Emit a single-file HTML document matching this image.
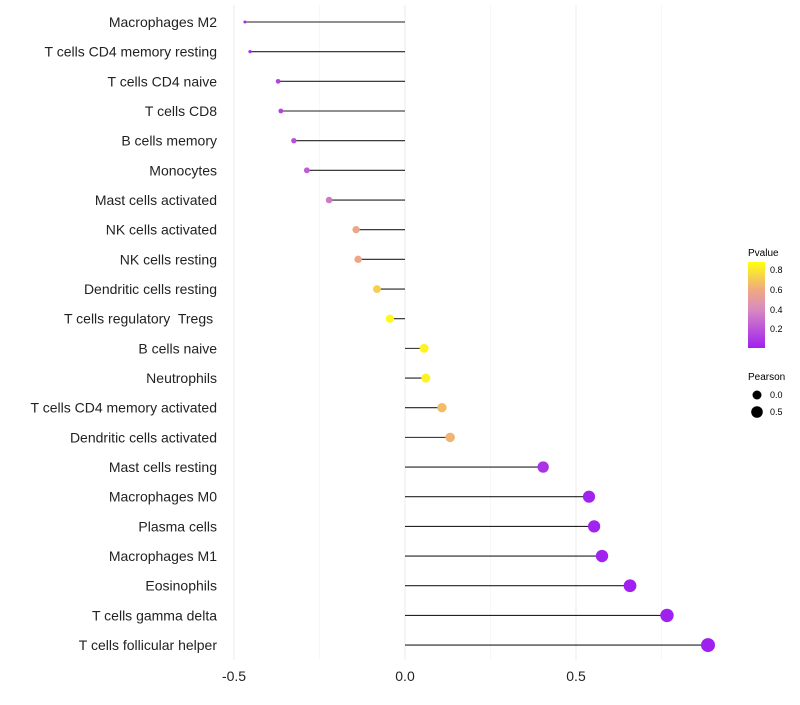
<!DOCTYPE html>
<html><head><meta charset="utf-8"><style>
body{margin:0;background:#fff;font-family:"Liberation Sans",sans-serif}
text{white-space:pre}
</style></head><body>
<svg id="chart" width="800" height="700" xmlns="http://www.w3.org/2000/svg">
<defs><linearGradient id="pg" x1="0" y1="1" x2="0" y2="0">
<stop offset="0" stop-color="#a020f0"/><stop offset="0.45" stop-color="#d98ac0"/><stop offset="0.68" stop-color="#f0aa80"/><stop offset="1" stop-color="#ffff10"/></linearGradient></defs>
<g id="grid"></g><g id="marks"></g><g id="labels"></g>
<g font-size="9">
<text x="748" y="256" font-size="10">Pvalue</text>
<rect x="748" y="262" width="17" height="86" fill="url(#pg)"/>
<text x="770" y="273">0.8</text><text x="770" y="293">0.6</text><text x="770" y="313">0.4</text><text x="770" y="332">0.2</text>
<text x="748" y="380" font-size="10">Pearson</text>
<circle cx="757" cy="395" r="4.5" fill="#000"/>
<circle cx="757" cy="412" r="5.8" fill="#000"/>
<text x="770" y="398">0.0</text><text x="770" y="415">0.5</text>
</g>
</svg>
<script>
const cells=["Macrophages M2","T cells CD4 memory resting","T cells CD4 naive","T cells CD8","B cells memory","Monocytes","Mast cells activated","NK cells activated","NK cells resting","Dendritic cells resting","T cells regulatory  Tregs ","B cells naive","Neutrophils","T cells CD4 memory activated","Dendritic cells activated","Mast cells resting","Macrophages M0","Plasma cells","Macrophages M1","Eosinophils","T cells gamma delta","T cells follicular helper"];
const pearson=[-0.468,-0.453,-0.371,-0.363,-0.325,-0.287,-0.222,-0.143,-0.137,-0.082,-0.044,0.056,0.061,0.108,0.132,0.404,0.538,0.553,0.576,0.658,0.766,0.886];
const pvalue=[0.05,0.06,0.13,0.13,0.17,0.22,0.33,0.58,0.57,0.72,0.86,0.84,0.84,0.66,0.63,0.07,0.01,0.01,0.01,0.003,0.001,0.0005];
const xticks=[-0.5,0,0.5];
const minor=[-0.25,0.25,0.75];
const NS="http://www.w3.org/2000/svg";
const X=v=>405+v*342;
const Y=i=>22+i*29.67;
function mk(t,a,p){const e=document.createElementNS(NS,t);for(const k in a)e.setAttribute(k,a[k]);p.appendChild(e);return e;}
function col(p){const s=[[0,[160,32,240]],[0.45,[217,138,192]],[0.68,[240,170,128]],[1,[255,255,16]]];let t=Math.min(1,p/0.88);for(let i=1;i<s.length;i++){if(t<=s[i][0]){const f=(t-s[i-1][0])/(s[i][0]-s[i-1][0]);const c=s[i-1][1].map((v,j)=>Math.round(v+(s[i][1][j]-v)*f));return`rgb(${c})`;}}return"rgb(255,255,16)";}
const grid=document.getElementById('grid'),marks=document.getElementById('marks'),labels=document.getElementById('labels');
minor.forEach(v=>{const l=mk('line',{x1:X(v),x2:X(v),y1:5,y2:660,stroke:'#f2f2f2','stroke-width':0.6},grid);

});
xticks.forEach(v=>{const l=mk('line',{x1:X(v),x2:X(v),y1:5,y2:660,stroke:'#ebebeb','stroke-width':1},grid);


const t=mk('text',{x:X(v),y:681,'text-anchor':'middle','font-size':14,fill:'#222'},labels);t.textContent=v===0?"0.0":String(v);

});
cells.forEach((c,i)=>{const y=Y(i);
const t=mk('text',{x:217,y:y+5,'text-anchor':'end','font-size':14,fill:'#222'},labels);t.textContent=c;


const l=mk('line',{x1:X(0),x2:X(pearson[i]),y1:y,y2:y,stroke:'#222','stroke-width':1.1},marks);


const r=Math.sqrt(Math.max(0.5,18.4+34.5*pearson[i]));
const d=mk('circle',{cx:X(pearson[i]),cy:y,r:r,fill:col(pvalue[i])},marks);

});
</script>
</body></html>
